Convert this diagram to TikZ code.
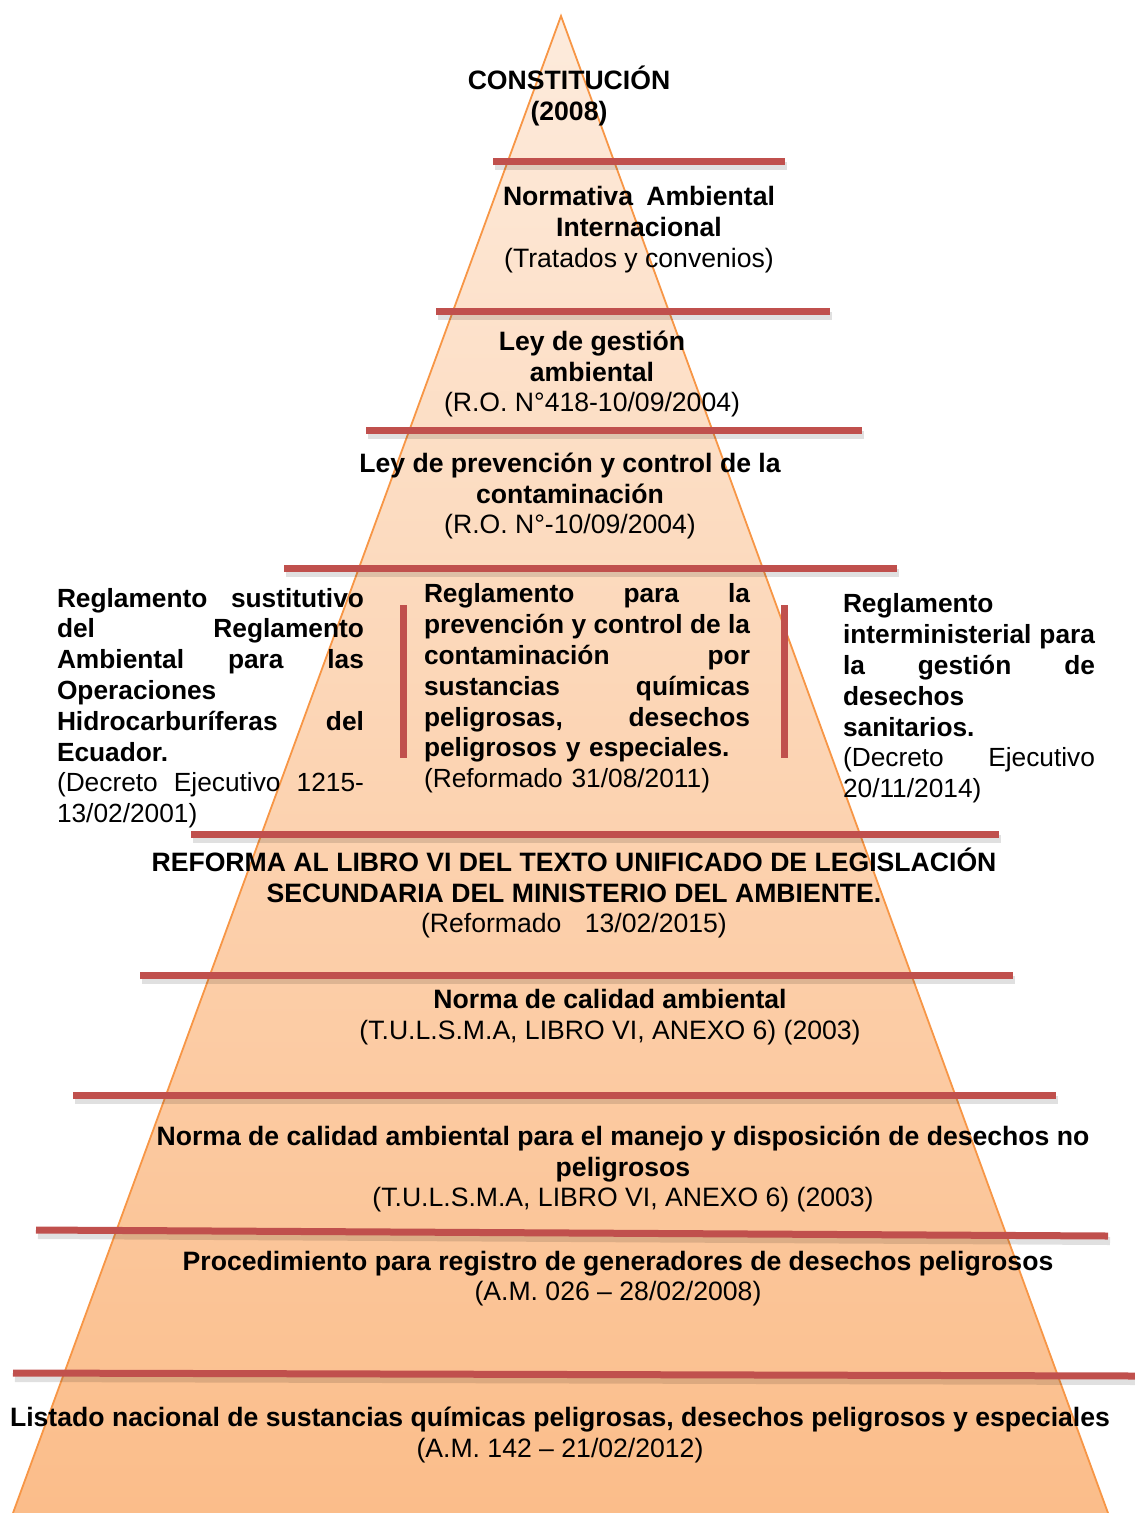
\documentclass[tikz,border=0pt]{standalone}
\usepackage{fontspec}
\setmainfont{Liberation Sans}
\definecolor{redline}{HTML}{C0504D}
\definecolor{orangeline}{HTML}{F79646}
\definecolor{peachtop}{HTML}{FDEBDC}
\definecolor{peachbot}{HTML}{FBBD8A}
\newcommand{\jline}[2]{\leavevmode\hbox to #1{#2}}
\begin{document}
\begin{tikzpicture}[x=1pt,y=-1pt,
  txt/.style={font=\fontsize{26.6}{30.8}\selectfont, inner sep=0pt, align=center},
  blk/.style={font=\fontsize{26.3}{30.8}\selectfont, inner sep=0pt, align=left, text width=#1},
  divider/.style={line width=7pt, draw=redline},
  dshadow/.style={line width=8pt, draw=black, opacity=0.12}]
\useasboundingbox (0,0) rectangle (1135,1513);
\coordinate (apex) at (561,16);
\coordinate (bl) at (13,1513);
\coordinate (br) at (1108,1513);
\shade[top color=peachtop, bottom color=peachbot] (apex) -- (bl) -- (br) -- cycle;
\draw[orangeline, line width=1.8pt] (bl) -- (apex) -- (br);
% dividers
\foreach \xa/\ya/\xb/\yb in {493/161/785/161, 436/311/830/311, 366/430/862/430, 284/568/897/568,
  191/834/999/834, 140/975/1013/975, 73/1095/1056/1095, 36/1230/1108/1236, 13/1373/1135/1376}{
  \draw[dshadow] (\xa+2,\ya+5) -- (\xb+2,\yb+5);
  \draw[divider] (\xa,\ya) -- (\xb,\yb);
}
\draw[divider] (403,605) -- (403,758);
\draw[divider] (784,605) -- (784,758);
% texts
\node[txt] (n1) at (569,96) {\bfseries CONSTITUCIÓN\\\bfseries (2008)};
\node[txt] (n2) at (639,229.5) {\bfseries\jline{272pt}{Normativa\hfill Ambiental}\\\bfseries Internacional\\(Tratados y convenios)};
\node[txt] (n3) at (592,374) {\bfseries Ley de gestión\\\bfseries ambiental\\(R.O. N°418-10/09/2004)};
\node[txt] (n4) at (570,496) {\bfseries Ley de prevención y control de la\\\bfseries contaminación\\(R.O. N°-10/09/2004)};
\node[blk=307pt] (n5) at (210.5,708) {%
\textbf{\jline{307pt}{Reglamento\hfill sustitutivo}}\\
\textbf{\jline{307pt}{del\hfill Reglamento}}\\
\textbf{\jline{307pt}{Ambiental\hfill para\hfill las}}\\
\textbf{Operaciones}\\
\textbf{\jline{307pt}{Hidrocarburíferas\hfill del}}\\
\textbf{Ecuador.}\\
\jline{307pt}{(Decreto\hfill Ejecutivo\hfill 1215-}\\
13/02/2001)};
\node[blk=326pt] (n6) at (587,688.5) {%
\textbf{\jline{326pt}{Reglamento\hfill para\hfill la}}\\
\textbf{\jline{326pt}{prevención\hfill y\hfill control\hfill de\hfill la}}\\
\textbf{\jline{326pt}{contaminación\hfill por}}\\
\textbf{\jline{326pt}{sustancias\hfill químicas}}\\
\textbf{\jline{326pt}{peligrosas,\hfill desechos}}\\
\textbf{peligrosos y especiales.}\\
(Reformado 31/08/2011)};
\node[blk=252pt] (n7) at (969,698.5) {%
\textbf{Reglamento}\\
\textbf{\jline{252pt}{interministerial\hfill para}}\\
\textbf{\jline{252pt}{la\hfill gestión\hfill de}}\\
\textbf{desechos}\\
\textbf{sanitarios.}\\
\jline{252pt}{(Decreto\hfill Ejecutivo}\\
20/11/2014)};
\node[txt] (n8) at (574,893) {\bfseries REFORMA AL LIBRO VI DEL TEXTO UNIFICADO DE LEGISLACIÓN\\\bfseries SECUNDARIA DEL MINISTERIO DEL AMBIENTE.\\(Reformado\hspace{16pt} 13/02/2015)};
\node[txt] (n9) at (610,1017.5) {\bfseries Norma de calidad ambiental\\(T.U.L.S.M.A, LIBRO VI, ANEXO 6) (2003)};
\node[txt] (n10) at (623,1169) {\bfseries Norma de calidad ambiental para el manejo y disposición de desechos no\\\bfseries peligrosos\\(T.U.L.S.M.A, LIBRO VI, ANEXO 6) (2003)};
\node[txt] (n11) at (618,1278.5) {\bfseries Procedimiento para registro de generadores de desechos peligrosos\\(A.M. 026 -- 28/02/2008)};
\node[txt] (n12) at (560,1435) {\bfseries Listado nacional de sustancias químicas peligrosas, desechos peligrosos y especiales\\(A.M. 142 -- 21/02/2012)};
\end{tikzpicture}
\end{document}
